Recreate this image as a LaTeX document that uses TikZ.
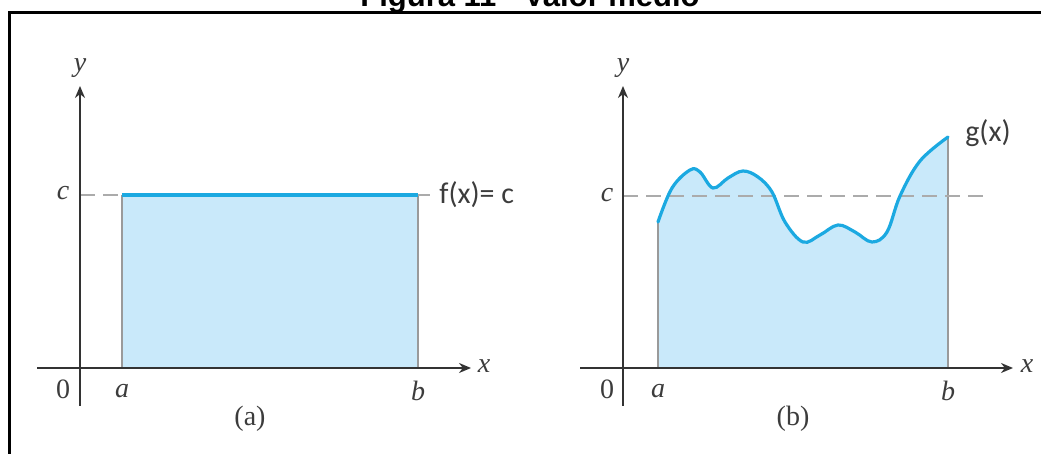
\documentclass[tikz,border=0pt]{standalone}
\usepackage{fontspec}
\setmainfont{Liberation Serif}
\setsansfont{Carlito}
\newfontfamily\titlefont{Liberation Sans}
\usetikzlibrary{arrows.meta}
\definecolor{areablue}{HTML}{C9E9FA}
\definecolor{curveblue}{HTML}{1BA9E1}
\definecolor{axisgray}{HTML}{333333}
\definecolor{sidegray}{HTML}{9A9A9A}
\definecolor{dashgray}{HTML}{ABABAB}
\definecolor{labelgray}{HTML}{3C3C3C}

\begin{document}
\begin{tikzpicture}[
  x=0.5pt, y=-0.5pt,
  >={Stealth[length=6pt, width=5pt]},
  axis/.style={->, line width=1.2pt, draw=axisgray},
  guide/.style={dash pattern=on 7.5pt off 4pt, line width=0.9pt, draw=dashgray},
  side/.style={line width=0.9pt, draw=sidegray},
  curve/.style={line width=1.6pt, draw=curveblue, line cap=round},
  lbl/.style={font=\fontsize{14}{16}\selectfont, text=labelgray, inner sep=0pt},
  fn/.style={font=\sffamily\fontsize{15}{17}\selectfont, text=labelgray, inner sep=0pt},
  ]
  \useasboundingbox (0,0) rectangle (1041,454);

  % frame and title (cut by the page)
  \draw[line width=1.5pt] (9.5,600) -- (9.5,12.5) -- (1200,12.5);
  \node[font=\titlefont\bfseries\fontsize{15.5}{18}\selectfont, anchor=base, inner sep=0pt]
    (title) at (530,7) {Figura 11 - Valor medio};

  % ---------- (a) constant function
  \coordinate (a-O) at (80,368);
  \coordinate (a-A) at (122,368);
  \coordinate (a-B) at (418,368);
  \coordinate (a-CA) at (122,195);
  \coordinate (a-CB) at (418,195);
  \fill[areablue] (a-A) rectangle (a-CB);
  \draw[side] (a-A) -- (a-CA);
  \draw[side] (a-B) -- (a-CB);
  \draw[guide] (80,195) -- (a-CA);
  \draw[guide] (a-CB) -- (430,195);
  \draw[line width=1.6pt, draw=curveblue] (a-CA) -- (a-CB);
  \draw[axis] (37,368) -- (471,368);
  \draw[axis] (80,406) -- (80,86);

  \node[lbl] (a-y) at (80,68) {\itshape y};
  \node[lbl] (a-x) at (484,366) {\itshape x};
  \node[lbl] (a-c) at (63,193) {\itshape c};
  \node[lbl] (a-0) at (63,389) {0};
  \node[lbl] (a-a) at (122,391) {\itshape a};
  \node[lbl] (a-b) at (418,391) {\itshape b};
  \node[fn, anchor=west] (a-f) at (439,195) {f(x)= c};
  \node[lbl] (a-cap) at (250,419) {(a)};

  % ---------- (b) general function
  \coordinate (b-O) at (623,368);
  \coordinate (b-A) at (658,368);
  \coordinate (b-B) at (948,368);
  \fill[areablue] (b-A) -- plot[smooth, tension=0.6] coordinates {
    (658,222) (672,188) (690,170) (700,172) (713,188) (728,178) (743,171)
    (758,177) (772,192) (785,222) (803,242) (820,235) (838,225) (855,232)
    (872,242) (887,232) (900,196) (920,161) (948,137)} -- (b-B) -- cycle;
  \draw[side] (b-A) -- (658,222);
  \draw[side] (b-B) -- (948,137);
  \draw[guide] (623,196) -- (988,196);
  \draw[curve] plot[smooth, tension=0.6] coordinates {
    (658,222) (672,188) (690,170) (700,172) (713,188) (728,178) (743,171)
    (758,177) (772,192) (785,222) (803,242) (820,235) (838,225) (855,232)
    (872,242) (887,232) (900,196) (920,161) (948,137)};
  \draw[axis] (580,368) -- (1013,368);
  \draw[axis] (623,406) -- (623,86);

  \node[lbl] (b-y) at (623,68) {\itshape y};
  \node[lbl] (b-x) at (1027,366) {\itshape x};
  \node[lbl] (b-c) at (607,195) {\itshape c};
  \node[lbl] (b-0) at (607,389) {0};
  \node[lbl] (b-a) at (658,391) {\itshape a};
  \node[lbl] (b-b) at (948,391) {\itshape b};
  \node[fn] (b-g) at (988,133) {g(x)};
  \node[lbl] (b-cap) at (793,419) {(b)};
\end{tikzpicture}
\end{document}
